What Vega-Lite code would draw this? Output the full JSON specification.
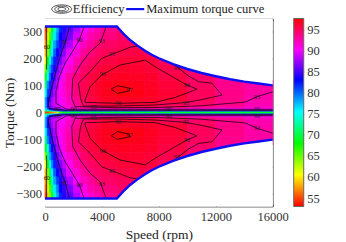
{"$schema":"https://vega.github.io/schema/vega-lite/v6.json","width":227.7,"height":188,"autosize":{"type":"none"},"padding":{"left":45,"top":18.5,"right":73.3,"bottom":35.5},"background":"white","config":{"view":{"stroke":null},"font":"Liberation Serif","axis":{"grid":false,"labelFont":"Liberation Serif","titleFont":"Liberation Serif","labelFontSize":12.5,"titleFontSize":13.5,"titleFontWeight":"normal","labelColor":"#333","titleColor":"#222","domainColor":"#666","tickColor":"#666","tickSize":-2.5,"zindex":1,"labelPadding":6,"labelFlush":false}},
"datasets":{
"cells":[
{"s":0,"s2":150,"t":0,"t2":5,"e":55},{"s":150,"s2":300,"t":0,"t2":5,"e":55},{"s":300,"s2":450,"t":0,"t2":5,"e":56},{"s":450,"s2":600,"t":0,"t2":5,"e":57},{"s":600,"s2":800,"t":0,"t2":5,"e":58},{"s":800,"s2":1000,"t":0,"t2":5,"e":62},{"s":1000,"s2":1250,"t":0,"t2":5,"e":66},{"s":1250,"s2":1500,"t":0,"t2":5,"e":68},{"s":1500,"s2":2000,"t":0,"t2":5,"e":69},{"s":2000,"s2":2500,"t":0,"t2":5,"e":69},{"s":2500,"s2":3000,"t":0,"t2":5,"e":69},{"s":3000,"s2":3500,"t":0,"t2":5,"e":69},{"s":3500,"s2":4000,"t":0,"t2":5,"e":69},{"s":4000,"s2":5000,"t":0,"t2":5,"e":69},{"s":5000,"s2":6000,"t":0,"t2":5,"e":69},{"s":6000,"s2":7000,"t":0,"t2":5,"e":69},{"s":7000,"s2":8000,"t":0,"t2":5,"e":69},{"s":8000,"s2":10000,"t":0,"t2":5,"e":69},{"s":10000,"s2":12000,"t":0,"t2":5,"e":69},{"s":12000,"s2":14000,"t":0,"t2":5,"e":69},{"s":14000,"s2":16000,"t":0,"t2":5,"e":69},
{"s":0,"s2":150,"t":5,"t2":8,"e":70},{"s":150,"s2":300,"t":5,"t2":8,"e":70},{"s":300,"s2":450,"t":5,"t2":8,"e":72},{"s":450,"s2":600,"t":5,"t2":8,"e":74},{"s":600,"s2":800,"t":5,"t2":8,"e":76},{"s":800,"s2":1000,"t":5,"t2":8,"e":78},{"s":1000,"s2":1250,"t":5,"t2":8,"e":80},{"s":1250,"s2":1500,"t":5,"t2":8,"e":81},{"s":1500,"s2":2000,"t":5,"t2":8,"e":81},{"s":2000,"s2":2500,"t":5,"t2":8,"e":81},{"s":2500,"s2":3000,"t":5,"t2":8,"e":81},{"s":3000,"s2":3500,"t":5,"t2":8,"e":81},{"s":3500,"s2":4000,"t":5,"t2":8,"e":81},{"s":4000,"s2":5000,"t":5,"t2":8,"e":81},{"s":5000,"s2":6000,"t":5,"t2":8,"e":81},{"s":6000,"s2":7000,"t":5,"t2":8,"e":81},{"s":7000,"s2":8000,"t":5,"t2":8,"e":81},{"s":8000,"s2":10000,"t":5,"t2":8,"e":81},{"s":10000,"s2":12000,"t":5,"t2":8,"e":81},{"s":12000,"s2":14000,"t":5,"t2":8,"e":81},{"s":14000,"s2":16000,"t":5,"t2":8,"e":81},
{"s":0,"s2":150,"t":8,"t2":12,"e":74},{"s":150,"s2":300,"t":8,"t2":12,"e":76},{"s":300,"s2":450,"t":8,"t2":12,"e":78},{"s":450,"s2":600,"t":8,"t2":12,"e":80},{"s":600,"s2":800,"t":8,"t2":12,"e":82},{"s":800,"s2":1000,"t":8,"t2":12,"e":84},{"s":1000,"s2":1250,"t":8,"t2":12,"e":85},{"s":1250,"s2":1500,"t":8,"t2":12,"e":86},{"s":1500,"s2":2000,"t":8,"t2":12,"e":87},{"s":2000,"s2":2500,"t":8,"t2":12,"e":88},{"s":2500,"s2":3000,"t":8,"t2":12,"e":88.5},{"s":3000,"s2":3500,"t":8,"t2":12,"e":89},{"s":3500,"s2":4000,"t":8,"t2":12,"e":89},{"s":4000,"s2":5000,"t":8,"t2":12,"e":89},{"s":5000,"s2":6000,"t":8,"t2":12,"e":89},{"s":6000,"s2":7000,"t":8,"t2":12,"e":89},{"s":7000,"s2":8000,"t":8,"t2":12,"e":89},{"s":8000,"s2":10000,"t":8,"t2":12,"e":89},{"s":10000,"s2":12000,"t":8,"t2":12,"e":89},{"s":12000,"s2":14000,"t":8,"t2":12,"e":89},{"s":14000,"s2":16000,"t":8,"t2":12,"e":89},
{"s":0,"s2":150,"t":12,"t2":18,"e":76},{"s":150,"s2":300,"t":12,"t2":18,"e":80},{"s":300,"s2":450,"t":12,"t2":18,"e":83},{"s":450,"s2":600,"t":12,"t2":18,"e":85},{"s":600,"s2":800,"t":12,"t2":18,"e":86},{"s":800,"s2":1000,"t":12,"t2":18,"e":87},{"s":1000,"s2":1250,"t":12,"t2":18,"e":88},{"s":1250,"s2":1500,"t":12,"t2":18,"e":89},{"s":1500,"s2":2000,"t":12,"t2":18,"e":90},{"s":2000,"s2":2500,"t":12,"t2":18,"e":91},{"s":2500,"s2":3000,"t":12,"t2":18,"e":91.5},{"s":3000,"s2":3500,"t":12,"t2":18,"e":92},{"s":3500,"s2":4000,"t":12,"t2":18,"e":92},{"s":4000,"s2":5000,"t":12,"t2":18,"e":92},{"s":5000,"s2":6000,"t":12,"t2":18,"e":92},{"s":6000,"s2":7000,"t":12,"t2":18,"e":92},{"s":7000,"s2":8000,"t":12,"t2":18,"e":92},{"s":8000,"s2":10000,"t":12,"t2":18,"e":91.5},{"s":10000,"s2":12000,"t":12,"t2":18,"e":91},{"s":12000,"s2":14000,"t":12,"t2":18,"e":90.5},{"s":14000,"s2":16000,"t":12,"t2":18,"e":90.5},
{"s":0,"s2":150,"t":18,"t2":26,"e":78},{"s":150,"s2":300,"t":18,"t2":26,"e":84},{"s":300,"s2":450,"t":18,"t2":26,"e":86},{"s":450,"s2":600,"t":18,"t2":26,"e":87.5},{"s":600,"s2":800,"t":18,"t2":26,"e":88},{"s":800,"s2":1000,"t":18,"t2":26,"e":89},{"s":1000,"s2":1250,"t":18,"t2":26,"e":89.5},{"s":1250,"s2":1500,"t":18,"t2":26,"e":90},{"s":1500,"s2":2000,"t":18,"t2":26,"e":91.5},{"s":2000,"s2":2500,"t":18,"t2":26,"e":92.5},{"s":2500,"s2":3000,"t":18,"t2":26,"e":93.5},{"s":3000,"s2":3500,"t":18,"t2":26,"e":94},{"s":3500,"s2":4000,"t":18,"t2":26,"e":94.5},{"s":4000,"s2":5000,"t":18,"t2":26,"e":95},{"s":5000,"s2":6000,"t":18,"t2":26,"e":95},{"s":6000,"s2":7000,"t":18,"t2":26,"e":95},{"s":7000,"s2":8000,"t":18,"t2":26,"e":95},{"s":8000,"s2":10000,"t":18,"t2":26,"e":94.5},{"s":10000,"s2":12000,"t":18,"t2":26,"e":93.5},{"s":12000,"s2":14000,"t":18,"t2":26,"e":93},{"s":14000,"s2":16000,"t":18,"t2":26,"e":92},
{"s":0,"s2":150,"t":26,"t2":40,"e":78},{"s":150,"s2":300,"t":26,"t2":40,"e":84},{"s":300,"s2":450,"t":26,"t2":40,"e":86.5},{"s":450,"s2":600,"t":26,"t2":40,"e":88},{"s":600,"s2":800,"t":26,"t2":40,"e":89},{"s":800,"s2":1000,"t":26,"t2":40,"e":89.5},{"s":1000,"s2":1250,"t":26,"t2":40,"e":90},{"s":1250,"s2":1500,"t":26,"t2":40,"e":90.5},{"s":1500,"s2":2000,"t":26,"t2":40,"e":92},{"s":2000,"s2":2500,"t":26,"t2":40,"e":93},{"s":2500,"s2":3000,"t":26,"t2":40,"e":94.5},{"s":3000,"s2":3500,"t":26,"t2":40,"e":95},{"s":3500,"s2":4000,"t":26,"t2":40,"e":95.5},{"s":4000,"s2":5000,"t":26,"t2":40,"e":96},{"s":5000,"s2":6000,"t":26,"t2":40,"e":96},{"s":6000,"s2":7000,"t":26,"t2":40,"e":96},{"s":7000,"s2":8000,"t":26,"t2":40,"e":96},{"s":8000,"s2":10000,"t":26,"t2":40,"e":95},{"s":10000,"s2":12000,"t":26,"t2":40,"e":94.5},{"s":12000,"s2":14000,"t":26,"t2":40,"e":93.5},{"s":14000,"s2":16000,"t":26,"t2":40,"e":92.5},
{"s":0,"s2":150,"t":40,"t2":60,"e":78},{"s":150,"s2":300,"t":40,"t2":60,"e":83},{"s":300,"s2":450,"t":40,"t2":60,"e":85.5},{"s":450,"s2":600,"t":40,"t2":60,"e":87.5},{"s":600,"s2":800,"t":40,"t2":60,"e":89},{"s":800,"s2":1000,"t":40,"t2":60,"e":89.5},{"s":1000,"s2":1250,"t":40,"t2":60,"e":90},{"s":1250,"s2":1500,"t":40,"t2":60,"e":91},{"s":1500,"s2":2000,"t":40,"t2":60,"e":92},{"s":2000,"s2":2500,"t":40,"t2":60,"e":93.5},{"s":2500,"s2":3000,"t":40,"t2":60,"e":95},{"s":3000,"s2":3500,"t":40,"t2":60,"e":95.5},{"s":3500,"s2":4000,"t":40,"t2":60,"e":96},{"s":4000,"s2":5000,"t":40,"t2":60,"e":96.5},{"s":5000,"s2":6000,"t":40,"t2":60,"e":96.5},{"s":6000,"s2":7000,"t":40,"t2":60,"e":96.5},{"s":7000,"s2":8000,"t":40,"t2":60,"e":96.3},{"s":8000,"s2":10000,"t":40,"t2":60,"e":96},{"s":10000,"s2":12000,"t":40,"t2":60,"e":95},{"s":12000,"s2":14000,"t":40,"t2":60,"e":93.7},{"s":14000,"s2":16000,"t":40,"t2":60,"e":92.7},
{"s":0,"s2":150,"t":60,"t2":90,"e":75},{"s":150,"s2":300,"t":60,"t2":90,"e":81},{"s":300,"s2":450,"t":60,"t2":90,"e":84.5},{"s":450,"s2":600,"t":60,"t2":90,"e":86},{"s":600,"s2":800,"t":60,"t2":90,"e":88},{"s":800,"s2":1000,"t":60,"t2":90,"e":89.5},{"s":1000,"s2":1250,"t":60,"t2":90,"e":90.5},{"s":1250,"s2":1500,"t":60,"t2":90,"e":91.5},{"s":1500,"s2":2000,"t":60,"t2":90,"e":92.5},{"s":2000,"s2":2500,"t":60,"t2":90,"e":94},{"s":2500,"s2":3000,"t":60,"t2":90,"e":95.2},{"s":3000,"s2":3500,"t":60,"t2":90,"e":95.8},{"s":3500,"s2":4000,"t":60,"t2":90,"e":96.3},{"s":4000,"s2":5000,"t":60,"t2":90,"e":96.8},{"s":5000,"s2":6000,"t":60,"t2":90,"e":97.2},{"s":6000,"s2":7000,"t":60,"t2":90,"e":97},{"s":7000,"s2":8000,"t":60,"t2":90,"e":96.6},{"s":8000,"s2":10000,"t":60,"t2":90,"e":96.1},{"s":10000,"s2":12000,"t":60,"t2":90,"e":95},{"s":12000,"s2":14000,"t":60,"t2":90,"e":93.7},{"s":14000,"s2":16000,"t":60,"t2":90,"e":92.8},
{"s":0,"s2":150,"t":90,"t2":120,"e":72},{"s":150,"s2":300,"t":90,"t2":120,"e":79},{"s":300,"s2":450,"t":90,"t2":120,"e":82},{"s":450,"s2":600,"t":90,"t2":120,"e":85},{"s":600,"s2":800,"t":90,"t2":120,"e":87},{"s":800,"s2":1000,"t":90,"t2":120,"e":88.5},{"s":1000,"s2":1250,"t":90,"t2":120,"e":90},{"s":1250,"s2":1500,"t":90,"t2":120,"e":91.5},{"s":1500,"s2":2000,"t":90,"t2":120,"e":92.8},{"s":2000,"s2":2500,"t":90,"t2":120,"e":94.3},{"s":2500,"s2":3000,"t":90,"t2":120,"e":95.2},{"s":3000,"s2":3500,"t":90,"t2":120,"e":95.9},{"s":3500,"s2":4000,"t":90,"t2":120,"e":96.3},{"s":4000,"s2":5000,"t":90,"t2":120,"e":96.7},{"s":5000,"s2":6000,"t":90,"t2":120,"e":97},{"s":6000,"s2":7000,"t":90,"t2":120,"e":96.8},{"s":7000,"s2":8000,"t":90,"t2":120,"e":96.5},{"s":8000,"s2":10000,"t":90,"t2":120,"e":95.9},{"s":10000,"s2":12000,"t":90,"t2":120,"e":94.8},{"s":12000,"s2":14000,"t":90,"t2":120,"e":93.5},{"s":14000,"s2":16000,"t":90,"t2":120,"e":92.8},
{"s":0,"s2":150,"t":120,"t2":150,"e":69},{"s":150,"s2":300,"t":120,"t2":150,"e":75},{"s":300,"s2":450,"t":120,"t2":150,"e":80},{"s":450,"s2":600,"t":120,"t2":150,"e":83},{"s":600,"s2":800,"t":120,"t2":150,"e":85.5},{"s":800,"s2":1000,"t":120,"t2":150,"e":87.5},{"s":1000,"s2":1250,"t":120,"t2":150,"e":89.5},{"s":1250,"s2":1500,"t":120,"t2":150,"e":91},{"s":1500,"s2":2000,"t":120,"t2":150,"e":92.8},{"s":2000,"s2":2500,"t":120,"t2":150,"e":94},{"s":2500,"s2":3000,"t":120,"t2":150,"e":95},{"s":3000,"s2":3500,"t":120,"t2":150,"e":95.7},{"s":3500,"s2":4000,"t":120,"t2":150,"e":96.1},{"s":4000,"s2":5000,"t":120,"t2":150,"e":96.4},{"s":5000,"s2":6000,"t":120,"t2":150,"e":96.6},{"s":6000,"s2":7000,"t":120,"t2":150,"e":96.5},{"s":7000,"s2":8000,"t":120,"t2":150,"e":96.3},{"s":8000,"s2":10000,"t":120,"t2":150,"e":95.6},{"s":10000,"s2":12000,"t":120,"t2":150,"e":94.5},{"s":12000,"s2":14000,"t":120,"t2":150,"e":93.3},
{"s":0,"s2":150,"t":150,"t2":180,"e":65},{"s":150,"s2":300,"t":150,"t2":180,"e":72},{"s":300,"s2":450,"t":150,"t2":180,"e":78},{"s":450,"s2":600,"t":150,"t2":180,"e":81},{"s":600,"s2":800,"t":150,"t2":180,"e":84},{"s":800,"s2":1000,"t":150,"t2":180,"e":86},{"s":1000,"s2":1250,"t":150,"t2":180,"e":88},{"s":1250,"s2":1500,"t":150,"t2":180,"e":90},{"s":1500,"s2":2000,"t":150,"t2":180,"e":91.5},{"s":2000,"s2":2500,"t":150,"t2":180,"e":93},{"s":2500,"s2":3000,"t":150,"t2":180,"e":94.5},{"s":3000,"s2":3500,"t":150,"t2":180,"e":95.2},{"s":3500,"s2":4000,"t":150,"t2":180,"e":95.7},{"s":4000,"s2":5000,"t":150,"t2":180,"e":96.1},{"s":5000,"s2":6000,"t":150,"t2":180,"e":96.3},{"s":6000,"s2":7000,"t":150,"t2":180,"e":96.2},{"s":7000,"s2":8000,"t":150,"t2":180,"e":96},{"s":8000,"s2":10000,"t":150,"t2":180,"e":95.3},{"s":10000,"s2":12000,"t":150,"t2":180,"e":94.5},
{"s":0,"s2":150,"t":180,"t2":210,"e":60},{"s":150,"s2":300,"t":180,"t2":210,"e":68},{"s":300,"s2":450,"t":180,"t2":210,"e":75},{"s":450,"s2":600,"t":180,"t2":210,"e":79},{"s":600,"s2":800,"t":180,"t2":210,"e":82},{"s":800,"s2":1000,"t":180,"t2":210,"e":84.5},{"s":1000,"s2":1250,"t":180,"t2":210,"e":86.5},{"s":1250,"s2":1500,"t":180,"t2":210,"e":88.5},{"s":1500,"s2":2000,"t":180,"t2":210,"e":90.5},{"s":2000,"s2":2500,"t":180,"t2":210,"e":92.5},{"s":2500,"s2":3000,"t":180,"t2":210,"e":93.8},{"s":3000,"s2":3500,"t":180,"t2":210,"e":94.7},{"s":3500,"s2":4000,"t":180,"t2":210,"e":95.1},{"s":4000,"s2":5000,"t":180,"t2":210,"e":95.6},{"s":5000,"s2":6000,"t":180,"t2":210,"e":96},{"s":6000,"s2":7000,"t":180,"t2":210,"e":96},{"s":7000,"s2":8000,"t":180,"t2":210,"e":95.8},{"s":8000,"s2":10000,"t":180,"t2":210,"e":95},
{"s":0,"s2":150,"t":210,"t2":240,"e":58},{"s":150,"s2":300,"t":210,"t2":240,"e":64},{"s":300,"s2":450,"t":210,"t2":240,"e":71},{"s":450,"s2":600,"t":210,"t2":240,"e":76},{"s":600,"s2":800,"t":210,"t2":240,"e":80},{"s":800,"s2":1000,"t":210,"t2":240,"e":83},{"s":1000,"s2":1250,"t":210,"t2":240,"e":85},{"s":1250,"s2":1500,"t":210,"t2":240,"e":87},{"s":1500,"s2":2000,"t":210,"t2":240,"e":89.5},{"s":2000,"s2":2500,"t":210,"t2":240,"e":91.5},{"s":2500,"s2":3000,"t":210,"t2":240,"e":93},{"s":3000,"s2":3500,"t":210,"t2":240,"e":94},{"s":3500,"s2":4000,"t":210,"t2":240,"e":94.7},{"s":4000,"s2":5000,"t":210,"t2":240,"e":95.1},{"s":5000,"s2":6000,"t":210,"t2":240,"e":95.5},{"s":6000,"s2":7000,"t":210,"t2":240,"e":95.6},{"s":7000,"s2":8000,"t":210,"t2":240,"e":95.2},
{"s":0,"s2":150,"t":240,"t2":270,"e":57},{"s":150,"s2":300,"t":240,"t2":270,"e":62},{"s":300,"s2":450,"t":240,"t2":270,"e":68},{"s":450,"s2":600,"t":240,"t2":270,"e":74},{"s":600,"s2":800,"t":240,"t2":270,"e":78},{"s":800,"s2":1000,"t":240,"t2":270,"e":81},{"s":1000,"s2":1250,"t":240,"t2":270,"e":84},{"s":1250,"s2":1500,"t":240,"t2":270,"e":85.5},{"s":1500,"s2":2000,"t":240,"t2":270,"e":88},{"s":2000,"s2":2500,"t":240,"t2":270,"e":90.3},{"s":2500,"s2":3000,"t":240,"t2":270,"e":92},{"s":3000,"s2":3500,"t":240,"t2":270,"e":93.2},{"s":3500,"s2":4000,"t":240,"t2":270,"e":94.2},{"s":4000,"s2":5000,"t":240,"t2":270,"e":94.7},{"s":5000,"s2":6000,"t":240,"t2":270,"e":95},{"s":6000,"s2":7000,"t":240,"t2":270,"e":95},
{"s":0,"s2":150,"t":270,"t2":300,"e":56},{"s":150,"s2":300,"t":270,"t2":300,"e":60},{"s":300,"s2":450,"t":270,"t2":300,"e":66},{"s":450,"s2":600,"t":270,"t2":300,"e":71},{"s":600,"s2":800,"t":270,"t2":300,"e":76},{"s":800,"s2":1000,"t":270,"t2":300,"e":79},{"s":1000,"s2":1250,"t":270,"t2":300,"e":83},{"s":1250,"s2":1500,"t":270,"t2":300,"e":84.5},{"s":1500,"s2":2000,"t":270,"t2":300,"e":86.5},{"s":2000,"s2":2500,"t":270,"t2":300,"e":89},{"s":2500,"s2":3000,"t":270,"t2":300,"e":91},{"s":3000,"s2":3500,"t":270,"t2":300,"e":92.5},{"s":3500,"s2":4000,"t":270,"t2":300,"e":93.2},{"s":4000,"s2":5000,"t":270,"t2":300,"e":94},{"s":5000,"s2":6000,"t":270,"t2":300,"e":94.6},
{"s":0,"s2":150,"t":300,"t2":320,"e":55},{"s":150,"s2":300,"t":300,"t2":320,"e":59},{"s":300,"s2":450,"t":300,"t2":320,"e":64},{"s":450,"s2":600,"t":300,"t2":320,"e":69},{"s":600,"s2":800,"t":300,"t2":320,"e":74},{"s":800,"s2":1000,"t":300,"t2":320,"e":78},{"s":1000,"s2":1250,"t":300,"t2":320,"e":82},{"s":1250,"s2":1500,"t":300,"t2":320,"e":84},{"s":1500,"s2":2000,"t":300,"t2":320,"e":85.5},{"s":2000,"s2":2500,"t":300,"t2":320,"e":88},{"s":2500,"s2":3000,"t":300,"t2":320,"e":90},{"s":3000,"s2":3500,"t":300,"t2":320,"e":91.5},{"s":3500,"s2":4000,"t":300,"t2":320,"e":92.5},{"s":4000,"s2":5000,"t":300,"t2":320,"e":93.5},{"s":5000,"s2":6000,"t":300,"t2":320,"e":94.3}
],
"contours":[
{"id":"60","o":1,"s":115,"t":320},{"id":"60","o":2,"s":115,"t":160},
{"id":"85","o":1,"s":1715,"t":320},{"id":"85","o":2,"s":1480,"t":270},{"id":"85","o":3,"s":1175,"t":226},{"id":"85","o":4,"s":820,"t":164},{"id":"85","o":5,"s":470,"t":90},{"id":"85","o":6,"s":235,"t":34},{"id":"85","o":7,"s":300,"t":14},{"id":"85","o":8,"s":1600,"t":8},{"id":"85","o":9,"s":16000,"t":8},
{"id":"90","o":1,"s":2746,"t":320},{"id":"90","o":2,"s":2418,"t":270},{"id":"90","o":3,"s":1995,"t":233},{"id":"90","o":4,"s":1408,"t":183},{"id":"90","o":5,"s":1010,"t":133},{"id":"90","o":6,"s":775,"t":78},{"id":"90","o":7,"s":775,"t":34},{"id":"90","o":8,"s":1525,"t":12},{"id":"90","o":9,"s":16000,"t":12},
{"id":"93","o":1,"s":4296,"t":320},{"id":"93","o":2,"s":3873,"t":258},{"id":"93","o":3,"s":3169,"t":226},{"id":"93","o":4,"s":2465,"t":177},{"id":"93","o":5,"s":1950,"t":127},{"id":"93","o":6,"s":1880,"t":53},{"id":"93","o":7,"s":2113,"t":22},{"id":"93","o":8,"s":5000,"t":18},{"id":"93","o":9,"s":8000,"t":19},{"id":"93","o":10,"s":11000,"t":25},{"id":"93","o":11,"s":14085,"t":39},{"id":"93","o":12,"s":14905,"t":59},{"id":"93","o":13,"s":16000,"t":77},
{"id":"95a","o":1,"s":6573,"t":248},{"id":"95a","o":2,"s":5986,"t":243},{"id":"95a","o":3,"s":4708,"t":217},{"id":"95a","o":4,"s":3990,"t":202},{"id":"95a","o":5,"s":3169,"t":152},{"id":"95a","o":6,"s":2347,"t":109},{"id":"95a","o":7,"s":2500,"t":53},{"id":"95a","o":8,"s":2700,"t":24},{"id":"95a","o":9,"s":5000,"t":24},{"id":"95a","o":10,"s":7746,"t":28},{"id":"95a","o":11,"s":9900,"t":37},{"id":"95a","o":12,"s":11100,"t":49},{"id":"95a","o":13,"s":12440,"t":65},{"id":"95a","o":14,"s":11735,"t":109},{"id":"95a","o":15,"s":10800,"t":115},{"id":"95a","o":16,"s":10080,"t":136},{"id":"95a","o":17,"s":9270,"t":170},
{"id":"96","o":1,"s":2817,"t":47},{"id":"96","o":2,"s":2817,"t":38},{"id":"96","o":3,"s":5162,"t":34},{"id":"96","o":4,"s":7746,"t":38},{"id":"96","o":5,"s":9155,"t":56},{"id":"96","o":6,"s":10683,"t":87},{"id":"96","o":7,"s":9977,"t":102},{"id":"96","o":8,"s":7746,"t":170},{"id":"96","o":9,"s":7042,"t":195},{"id":"96","o":10,"s":5282,"t":177},{"id":"96","o":11,"s":3990,"t":140},{"id":"96","o":12,"s":3169,"t":96},{"id":"96","o":13,"s":2817,"t":47},
{"id":"97","o":1,"s":5094,"t":100},{"id":"97","o":2,"s":6000,"t":90},{"id":"97","o":3,"s":5869,"t":80},{"id":"97","o":4,"s":5094,"t":71},{"id":"97","o":5,"s":4648,"t":87},{"id":"97","o":6,"s":5094,"t":100}
],
"labels":[
{"s":120,"t":245,"l":"60"},{"s":1408,"t":261,"l":"85"},{"s":2418,"t":270,"l":"90"},{"s":3990,"t":266,"l":"93"},{"s":4708,"t":217,"l":"95"},{"s":4060,"t":142,"l":"96"},{"s":5960,"t":85,"l":"97"},{"s":3400,"t":22,"l":"95"},{"s":5160,"t":34,"l":"96"},{"s":9270,"t":164,"l":"95"},{"s":9977,"t":102,"l":"96"},{"s":9900,"t":37,"l":"95"},{"s":14900,"t":59,"l":"93"},{"s":8700,"t":12,"l":"90"},{"s":14900,"t":12,"l":"90"},{"s":2000,"t":13,"l":"90"},{"s":900,"t":13,"l":"85"}
],
"curve":[
{"side":"top","s":0,"t":320},{"side":"top","s":5050,"t":320},{"side":"top","s":5500,"t":294},{"side":"top","s":6000,"t":269},{"side":"top","s":6500,"t":249},{"side":"top","s":7000,"t":231},{"side":"top","s":7500,"t":215},{"side":"top","s":8000,"t":202},{"side":"top","s":9000,"t":180},{"side":"top","s":10000,"t":162},{"side":"top","s":11000,"t":147},{"side":"top","s":12000,"t":135},{"side":"top","s":13000,"t":124},{"side":"top","s":14000,"t":115},{"side":"top","s":15000,"t":108},{"side":"top","s":16000,"t":101},
{"side":"bottom","s":0,"t":-320},{"side":"bottom","s":5050,"t":-320},{"side":"bottom","s":5500,"t":-294},{"side":"bottom","s":6000,"t":-269},{"side":"bottom","s":6500,"t":-249},{"side":"bottom","s":7000,"t":-231},{"side":"bottom","s":7500,"t":-215},{"side":"bottom","s":8000,"t":-202},{"side":"bottom","s":9000,"t":-180},{"side":"bottom","s":10000,"t":-162},{"side":"bottom","s":11000,"t":-147},{"side":"bottom","s":12000,"t":-135},{"side":"bottom","s":13000,"t":-124},{"side":"bottom","s":14000,"t":-115},{"side":"bottom","s":15000,"t":-108},{"side":"bottom","s":16000,"t":-101}
]},
"encoding":{"x":{"field":"s","type":"quantitative","scale":{"domain":[0,16000],"nice":false},"axis":null},"y":{"field":"t","type":"quantitative","scale":{"domain":[-350,350],"nice":false},"axis":null}},
"layer":[
{"data":{"name":"cells"},"mark":{"type":"rect","strokeWidth":0.8},"encoding":{"x2":{"field":"s2"},"y2":{"field":"t2"},"stroke":{"field":"e","type":"quantitative","scale":{"domain":[53,60.5,68,75.5,83,90.2,97.6],"range":["#ff0000","#ffff00","#00ff00","#00ffff","#0000ff","#ff00ff","#ff0000"],"interpolate":"rgb"},"legend":null},"color":{"field":"e","type":"quantitative","scale":{"domain":[53,60.5,68,75.5,83,90.2,97.6],"range":["#ff0000","#ffff00","#00ff00","#00ffff","#0000ff","#ff00ff","#ff0000"],"interpolate":"rgb"},"legend":null}}},
{"data":{"name":"cells"},"mark":{"type":"rect","strokeWidth":0.8},"encoding":{"y":{"field":"t","type":"quantitative","scale":{"domain":[350,-350],"nice":false},"axis":null},"x2":{"field":"s2"},"y2":{"field":"t2"},"stroke":{"field":"e","type":"quantitative","legend":null},"color":{"field":"e","type":"quantitative","legend":null}}},
{"data":{"name":"curve"},"transform":[{"filter":"datum.side==='top'"}],"mark":{"type":"area","color":"white","opacity":1},"encoding":{"y2":{"datum":350}}},
{"data":{"name":"curve"},"transform":[{"filter":"datum.side==='bottom'"}],"mark":{"type":"area","color":"white","opacity":1},"encoding":{"y2":{"datum":-350}}},
{"data":{"name":"contours"},"mark":{"type":"line","color":"#000","strokeWidth":0.7},"encoding":{"detail":{"field":"id"},"order":{"field":"o"}}},
{"data":{"name":"contours"},"mark":{"type":"line","color":"#000","strokeWidth":0.7},"encoding":{"y":{"field":"t","type":"quantitative","scale":{"domain":[350,-350],"nice":false},"axis":null},"detail":{"field":"id"},"order":{"field":"o"}}},
{"data":{"name":"labels"},"mark":{"type":"text","fontSize":6,"color":"#222","font":"Liberation Serif"},"encoding":{"text":{"field":"l"}}},
{"data":{"name":"labels"},"mark":{"type":"text","fontSize":6,"color":"#222","font":"Liberation Serif"},"encoding":{"y":{"field":"t","type":"quantitative","scale":{"domain":[350,-350],"nice":false},"axis":null},"text":{"field":"l"}}},
{"data":{"name":"curve"},"mark":{"type":"line","color":"#0f10f2","strokeWidth":2.4},"encoding":{"detail":{"field":"side"},"x":{"field":"s","type":"quantitative","scale":{"domain":[0,16000],"nice":false},"axis":{"values":[0,4000,8000,12000,16000],"title":"Speed (rpm)","format":"d","titlePadding":5,"orient":"bottom"}},"y":{"field":"t","type":"quantitative","scale":{"domain":[-350,350],"nice":false},"axis":{"values":[-300,-200,-100,0,100,200,300],"title":"Torque (Nm)","format":"d","titlePadding":-1,"orient":"left"}}}},
{"data":{"name":"curve"},"mark":{"type":"line","opacity":0},"encoding":{"detail":{"field":"side"},"x":{"field":"s","type":"quantitative","scale":{"domain":[0,16000],"nice":false},"axis":{"values":[0,4000,8000,12000,16000],"title":null,"labels":false,"orient":"top"}},"y":{"field":"t","type":"quantitative","scale":{"domain":[-350,350],"nice":false},"axis":{"values":[-300,-200,-100,0,100,200,300],"title":null,"labels":false,"orient":"right"}}}},
{"data":{"values":[{"s":17477,"s2":18180,"e":53,"e2":97.6}]},"mark":{"type":"rect","stroke":"#666","strokeWidth":1,"color":{"gradient":"linear","x1":0,"y1":1,"x2":0,"y2":0,"stops":[{"offset":0,"color":"#ff0000"},{"offset":0.168,"color":"#ffff00"},{"offset":0.336,"color":"#00ff00"},{"offset":0.504,"color":"#00ffff"},{"offset":0.673,"color":"#0000ff"},{"offset":0.834,"color":"#ff00ff"},{"offset":1,"color":"#ff0000"}]}},"encoding":{"x2":{"field":"s2"},"y":{"field":"e","type":"quantitative","scale":{"domain":[53,97.6],"nice":false},"axis":{"orient":"right","offset":31,"values":[55,60,65,70,75,80,85,90,95],"title":null,"domain":false,"labelPadding":5,"tickSize":-2,"format":"d"}},"y2":{"field":"e2"}}},
{"data":{"values":[{"s":1176,"t":385,"k":400},{"s":1176,"t":385,"k":196},{"s":1176,"t":385,"k":64}]},"mark":{"type":"point","filled":false,"color":"#222","strokeWidth":0.8,"opacity":1,"shape":"M-1,0 A1,0.42 0 1,0 1,0 A1,0.42 0 1,0 -1,0 Z"},"encoding":{"size":{"field":"k","type":"quantitative","scale":null}}},
{"data":{"values":[{"s":1950,"t":385,"l":"Efficiency"},{"s":7113,"t":385,"l":"Maximum torque curve"}]},"mark":{"type":"text","align":"left","baseline":"middle","fontSize":12.5,"color":"#222","font":"Liberation Serif"},"encoding":{"text":{"field":"l"}}},
{"data":{"values":[{"s":5704,"t":385,"s2":6972}]},"mark":{"type":"rule","color":"#0f10f2","strokeWidth":2.2},"encoding":{"x2":{"field":"s2"}}}
],
"resolve":{"scale":{"y":"independent"},"axis":{"x":"independent","y":"independent"}}}
